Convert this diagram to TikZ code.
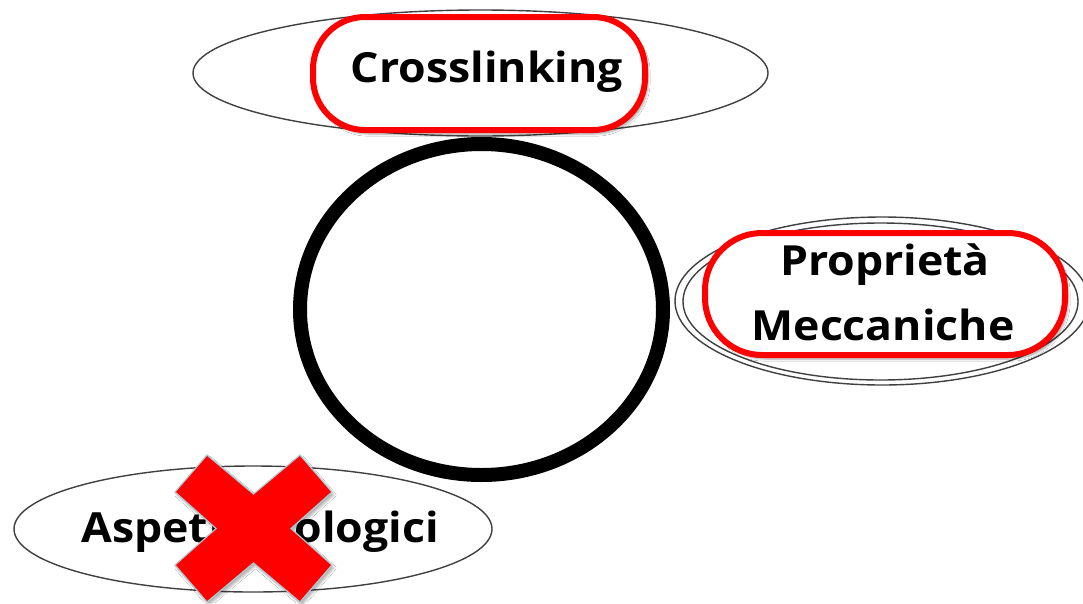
\documentclass[tikz,border=0pt]{standalone}
\usepackage{fontspec}
\setmainfont{Open Sans}[BoldFeatures={FakeStretch=1.075}]
\usetikzlibrary{shapes.geometric,shadows.blur}
\definecolor{markred}{HTML}{FF0000}
\definecolor{rimgray}{HTML}{404040}
\definecolor{xedge}{HTML}{A8CCD4}
\tikzset{
  oval/.style={ellipse, draw=rimgray, line width=1.4pt, fill=white, inner sep=0pt},
  redbox/.style={draw=markred, line width=6pt, fill=white, inner sep=0pt,
    blur shadow={shadow xshift=3pt, shadow yshift=-4pt, shadow blur steps=6, shadow opacity=35}},
  lbl/.style={font=\bfseries\fontsize{41.5}{45}\selectfont, inner sep=0pt}
}
\begin{document}
\begin{tikzpicture}[x=1pt, y=-1pt]
\useasboundingbox (0,0) rectangle (1083,603);
\fill[white] (0,0) rectangle (1083,603);

% outer label ovals
\node[oval, minimum width=575pt, minimum height=126pt] (topoval) at (480.5,73) {};
\node[oval, minimum width=414pt, minimum height=168pt] (rightouter) at (882,301) {};
\node[oval, minimum width=395pt, minimum height=157pt] (rightinner) at (880.5,301.5) {};
\node[oval, minimum width=478pt, minimum height=126pt] (leftoval) at (253,529) {};

% central ring
\node[ellipse, draw=black, line width=14pt, inner sep=0pt,
      minimum width=363pt, minimum height=331pt] (ring) at (481.5,309.5) {};

% highlighted labels
\node[redbox, rounded corners=52pt, minimum width=332pt, minimum height=113pt] (crossbox) at (479,73.5) {};
\node[lbl, anchor=base] (crosstxt) at (487,82) {Crosslinking};

\node[redbox, rounded corners=57pt, minimum width=360pt, minimum height=122pt] (mechbox) at (885,294) {};
\node[lbl, anchor=base] (proptxt) at (885,275) {Proprietà};
\node[lbl, anchor=base] (mecctxt) at (883,340) {Meccaniche};

\node[lbl, anchor=base] (biotxt) at (260,542) {Aspetti biologici};

% crossing-out mark
\filldraw[fill=markred, draw=xedge, line width=1.2pt,
  blur shadow={shadow xshift=2pt, shadow yshift=-3pt, shadow blur steps=5, shadow opacity=30}]
  (207,455) -- (253.5,494) -- (300,455) -- (332,492) -- (291,528.5) -- (332,565)
  -- (300,602) -- (253.5,563) -- (207,602) -- (175,565) -- (216,528.5) -- (175,492) -- cycle;
\end{tikzpicture}
\end{document}
